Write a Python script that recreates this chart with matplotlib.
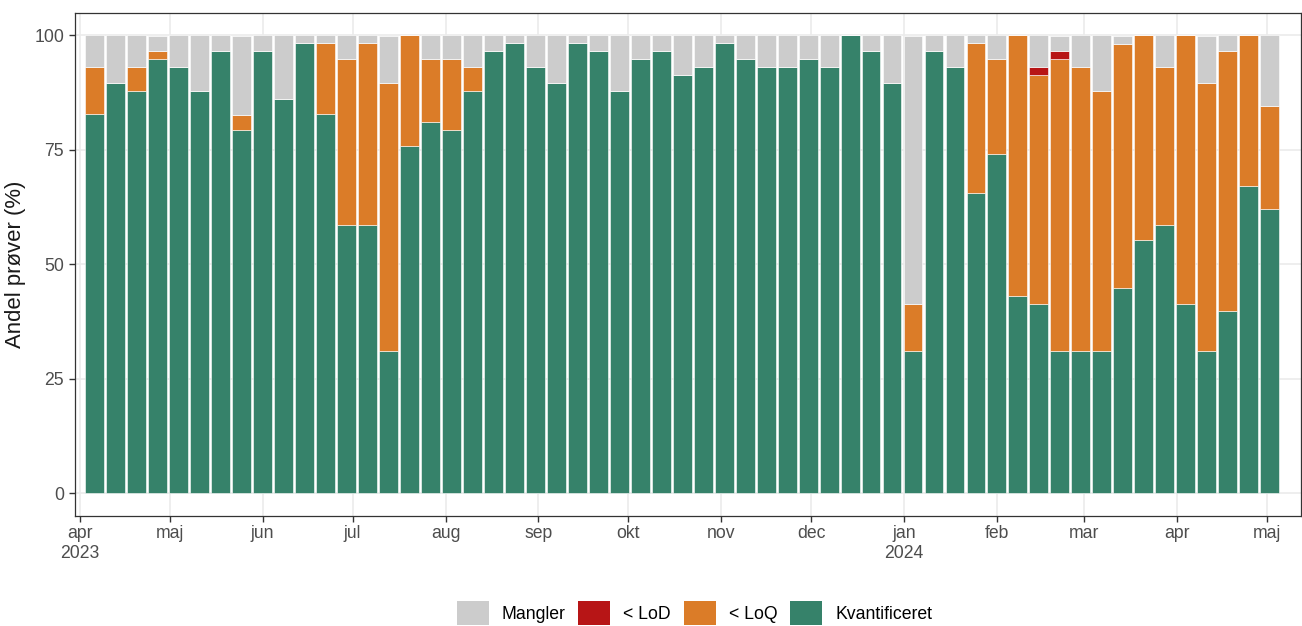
import numpy as np
import matplotlib
matplotlib.use("Agg")
import matplotlib.pyplot as plt
import matplotlib.dates as mdates
from matplotlib.patches import Patch

plt.rcParams['font.family'] = ['Liberation Sans', 'DejaVu Sans']

# ugentlige andele (%), uge-midtpunkt torsdag
weeks = np.arange(np.datetime64('2023-04-06'), np.datetime64('2024-05-03'), np.timedelta64(7, 'D'))

kvant = [82.8, 89.7, 87.9, 94.8, 93.1, 87.9, 96.6, 79.3, 96.6, 86.2,
         98.3, 82.8, 58.6, 58.6, 31.0, 75.9, 81.0, 79.3, 87.9, 96.6,
         98.3, 93.1, 89.7, 98.3, 96.6, 87.9, 94.8, 96.6, 91.4, 93.1,
         98.3, 94.8, 93.1, 93.1, 94.8, 93.1, 100.0, 96.6, 89.7, 31.0,
         96.6, 93.1, 65.5, 74.1, 43.1, 41.4, 31.0, 31.0, 31.0, 44.8,
         55.2, 58.6, 41.4, 31.0, 39.7, 67.2, 62.1]
loq = [10.3, 0, 5.2, 1.7, 0, 0, 0, 3.4, 0, 0,
       0, 15.5, 36.2, 39.7, 58.6, 24.1, 13.8, 15.5, 5.2, 0,
       0, 0, 0, 0, 0, 0, 0, 0, 0, 0,
       0, 0, 0, 0, 0, 0, 0, 0, 0, 10.3,
       0, 0, 32.8, 20.7, 56.9, 50.0, 63.8, 62.1, 56.9, 53.4,
       44.8, 34.5, 58.6, 58.6, 56.9, 32.8, 22.4]
lod = [0] * 45 + [1.7, 1.7] + [0] * 10
mangler = [6.9, 10.3, 6.9, 3.4, 6.9, 12.1, 3.4, 17.2, 3.4, 13.8,
           1.7, 1.7, 5.2, 1.7, 10.3, 0, 5.2, 5.2, 6.9, 3.4,
           1.7, 6.9, 10.3, 1.7, 3.4, 12.1, 5.2, 3.4, 8.6, 6.9,
           1.7, 5.2, 6.9, 6.9, 5.2, 6.9, 0, 3.4, 10.3, 58.6,
           3.4, 6.9, 1.7, 5.2, 0, 6.9, 3.4, 6.9, 12.1, 1.7,
           0, 6.9, 0, 10.3, 3.4, 0, 15.5]

labels = ['Mangler', '< LoD', '< LoQ', 'Kvantificeret']
colors = {'Mangler': '#CCCCCC', '< LoD': '#B71516', '< LoQ': '#DB7C28',
          'Kvantificeret': '#36826A'}

fig = plt.figure(figsize=(13.02, 6.26), dpi=100)
ax = fig.add_axes([74.5 / 1302, 1 - 516 / 626, 1226 / 1302, 503.5 / 626])

bottom = np.zeros(len(weeks))
for name, vals in [('Kvantificeret', kvant), ('< LoQ', loq), ('< LoD', lod), ('Mangler', mangler)]:
    vals = np.array(vals, dtype=float)
    ax.bar(weeks, vals, bottom=bottom, width=6.3, color=colors[name],
           edgecolor='white', linewidth=0.4, zorder=3)
    bottom += vals

ax.set_ylim(-5, 105)
x0 = mdates.date2num(np.datetime64('2023-04-01'))
x1 = mdates.date2num(np.datetime64('2024-05-01'))
ax.set_xlim(x0 - 1.8, x1 + 11.3)
ax.set_yticks([0, 25, 50, 75, 100])

months = np.arange(np.datetime64('2023-04'), np.datetime64('2024-06'), np.timedelta64(1, 'M'))
month_names = ['jan', 'feb', 'mar', 'apr', 'maj', 'jun', 'jul', 'aug', 'sep', 'okt', 'nov', 'dec']
ticks = [mdates.date2num(m.astype('datetime64[D]')) for m in months]
ticklabels = []
for m in months:
    y, mo = int(str(m)[:4]), int(str(m)[5:7])
    lab = month_names[mo - 1]
    if m == months[0] or mo == 1:
        lab += '\n%d' % y
    ticklabels.append(lab)
ax.set_xticks(ticks)
ax.set_xticklabels(ticklabels)

ax.grid(True, color='#EBEBEB', linewidth=1.2, zorder=0)
ax.set_axisbelow(True)
for s in ax.spines.values():
    s.set_color('#333333')
    s.set_linewidth(0.9)
ax.tick_params(axis='both', colors='#333333', length=4, width=1.0,
               labelsize=12.7, labelcolor='#4D4D4D')
ax.tick_params(axis='y', pad=3.5)
ax.tick_params(axis='x', pad=2.5)

fig.text(15.5 / 1302, 1 - 264 / 626, 'Andel prøver (%)', rotation=90,
         ha='center', va='center', fontsize=15.9, color='#1A1A1A')

handles = [Patch(facecolor=colors[l], edgecolor='none') for l in labels]
fig.legend(handles, labels, loc='center', bbox_to_anchor=(694.5 / 1302, 1 - 613 / 626),
           ncol=4, frameon=False, fontsize=12.7, handlelength=1.8, handleheight=1.8,
           handletextpad=0.74, columnspacing=0.74, borderaxespad=0, borderpad=0)

fig.savefig('out.png', dpi=100)
